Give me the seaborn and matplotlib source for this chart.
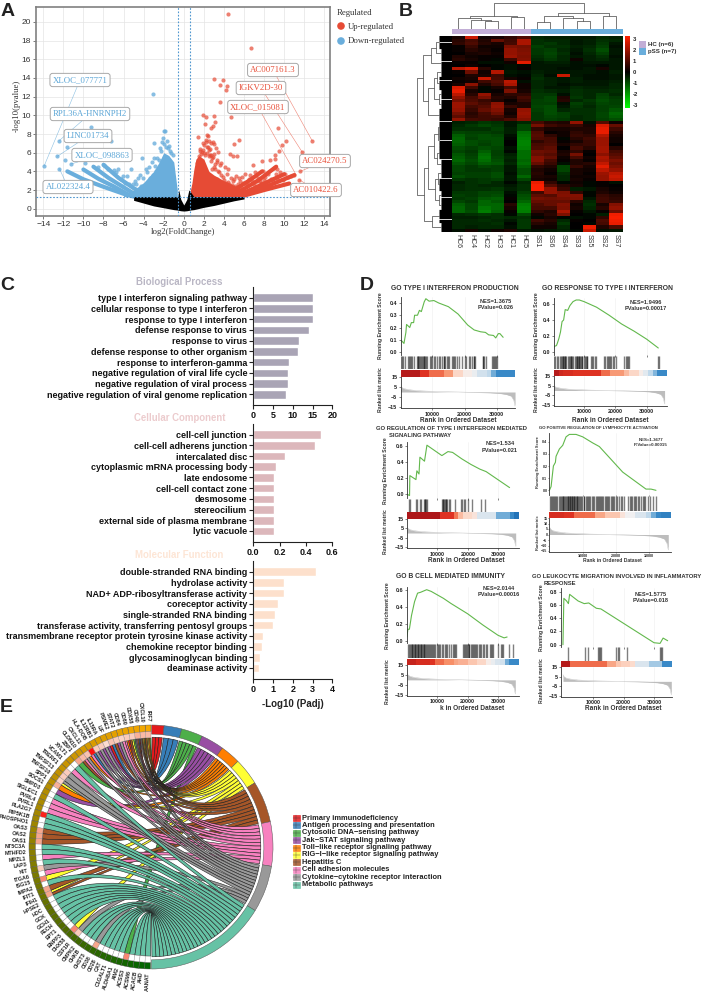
import numpy as np
import pandas as pd
import seaborn as sns
import matplotlib
matplotlib.use("Agg")
import matplotlib.pyplot as plt
from matplotlib.colors import LinearSegmentedColormap, ListedColormap
from matplotlib.patches import Wedge, PathPatch, Rectangle
from matplotlib.path import Path

# ---- A: volcano
up_x = [4.42,6.68,3.05,3.9,4.3,3.65,4.2,3.6,4.75,1.96,2.2,2.96,2.1,3.1,2.95,2.7,1.45,2.3,2.2,9.37,12.8,11.8,10.2,9.8,9.5,9.1,9.1,5.5,5,4.6,4.85,5.3,6.9,7.8,8.6,11.6,11.5,
        2.5,2.7,2.9,3.2,3.4,3.0,2.6,2.4,2.8,3.3,3.7,4.1,4.4,3.6,3.9,3.1,2.8,3.5,4.0,4.3,4.7,5.2,5.6,6.1,5.8,6.5,6.2,7.1,7.4,6.8,7.6,8.1,8.4,9.0,9.3,9.6,10.4,10.7,11.0,7.9,8.7,9.2,
        3.2,3.6,3.4,4.2,4.5,4.9,5.1,5.4,4.6,5.7,2.3,2.5,1.8,1.6,2.0,2.7,2.9,3.0,3.3,2.2,2.6,1.9,2.4,3.8,4.4,
        1.7,1.9,2.1,2.3,2.5,2.7,2.0,1.5,1.3,1.6,3.1,3.4,3.7,3.0,3.3,4.8,5.0,5.5,5.9,6.3,6.6,7.0,7.3,7.7,8.0,8.3,8.9,9.4,9.9,10.1]
up_y = [20.8,17.2,13.9,13.8,13.1,13.2,12.7,11.4,9.8,10,9.8,9.9,9.1,9.25,8.85,8.6,7.7,7.9,7.1,8.65,7.25,6.05,7.25,6.8,6.2,5.7,5.3,7.35,6.9,5.9,5.6,5.6,4.7,5.1,5.2,4,3.1,
        7.2,7.0,7.1,6.5,6.1,5.9,6.4,6.6,5.4,5.2,4.9,4.5,4.2,4.7,3.4,4.8,4.3,3.9,3.1,3.7,3.3,3.5,3.0,3.7,3.4,3.2,2.7,3.9,3.3,3.0,3.0,3.4,3.7,4.4,4.2,3.9,3.4,3.5,3.6,4.0,3.2,3.7,
        3.0,2.9,2.4,2.8,2.6,3.0,2.4,2.6,2.2,2.3,6.0,6.3,6.1,6.4,6.8,5.8,5.5,6.9,5.0,7.4,5.7,7.0,7.8,2.6,2.9,
        5.9,6.3,5.7,6.6,5.6,5.1,6.0,5.6,4.9,6.2,4.2,4.0,3.6,4.5,3.2,2.5,3.2,3.3,2.8,2.9,3.6,2.6,3.0,2.8,3.1,2.7,3.0,3.1,3.1,3.7]
down_x = [-13.95,-12.4,-12.6,-11.65,-12.4,-11.8,-11.2,-3.05,-9.2,-7.3,-2.95,-2.0,-1.9,-2.1,-1.7,-2.2,-1.5,-1.8,-2.4,-2.3,-1.4,-2.7,-3,-3.2,-2.85,-3.5,-3.8,-4.2,-4.4,-4.9,-5.3,-5.7,-6.1,-6.6,-7,-7.5,-6.3,-5.9,-5.1,-4.6,-4.1,-3.7,-3.4,-2.6,-3.1,-3.3,-3.6,-3.9,-4.3,-2.5,-2.8,-8.5,-7.9,-9.8,-6.8,-5.5,-4.8,-1.3,-1.1,-1.6,-1.95]
down_y = [4.6,7.3,5.6,6.6,4.3,5.2,4.8,12.3,8.7,7.2,7,8.3,8.3,7.6,7.2,7.1,6.7,6.6,6.5,6.2,6.2,5.4,5.4,5,4.6,4.5,4.2,5.4,3.6,3,4.3,3.5,3.5,4.2,4.1,4.3,3.2,2.8,2.6,3.3,3.3,3.9,3.3,4.2,3.6,2.9,2.8,2.4,2.4,5.2,4.0,4.5,4.7,4.9,3.9,2.6,2.7,6.0,5.7,6.5,6.9]
red_mass_x = [0.6,0.8,1.0,1.2,1.5,2.0,2.5,3.0,4.0,5.0,6.0]
red_mass_hi = [1.7,2.7,4.2,5.3,5.7,5.3,4.0,3.6,3.0,2.5,2.0]
blue_mass_x = [-6,-5,-4,-3.5,-3,-2.5,-2,-1.5,-1,-0.65]
blue_mass_hi = [1.5,2.0,2.8,3.4,4.0,4.9,6.0,5.7,5.0,2.0]
mass_floor = 1.3
black_x = [-5,-4,-3,-2,-1,-0.6,-0.5,-0.3,0,0.3,0.5,0.6,1,2,3,4,5,6]
black_hi = [1.3,1.3,1.3,1.3,1.3,1.3,2.0,1.0,0.4,1.0,2.0,1.9,1.3,1.3,1.3,1.3,1.3,1.3]
black_lo = [0.9,0.6,0.3,0.1,-0.1,-0.15,-0.18,-0.22,-0.25,-0.22,-0.18,-0.15,-0.1,0.15,0.35,0.6,0.85,1.05]
down_arms = [([-11.6,-10,-8,-6,-5],[4.0,3.15,2.35,1.6,1.3]),
             ([-10,-8.5,-7,-5.5],[4.2,3.2,2.4,1.5]),
             ([-9,-7.5,-6,-4.8],[4.5,3.3,2.3,1.5]),
             ([-8,-6.5,-5,-4],[4.7,3.3,2.2,1.6])]
up_arms = [([6,8,10.5],[1.4,2.0,2.7]),
           ([6,8.5,11],[1.5,2.5,3.6]),
           ([6,8,10],[1.7,2.7,3.7]),
           ([5.5,7.5,9.2],[1.8,3.1,4.5]),
           ([5,6.5,7.8],[2.0,3.0,4.0])]
volcano_labels = ["XLOC_077771","RPL36A-HNRNPH2","LINC01734","XLOC_098863","AL022324.4",
                  "AC007161.3","IGKV2D-30","XLOC_015081","AC024270.5","AC010422.6"]
volcano_targets = [(-13.9,4.6),(-12.4,7.3),(-12.6,5.6),(-11.2,4.8),(-12.4,4.3),
                   (12.8,7.25),(11.8,6.05),(11.2,3.6),(11.6,4.0),(11.5,3.1)]

# ---- B: heatmap
hm_cols = ["HC6","HC4","HC2","HC3","HC1","HC5","SS1","SS6","SS4","SS3","SS5","SS2","SS7"]
hm_groups = [0,0,0,0,0,0,1,1,1,1,1,1,1]
hm_rows = [
[.3,2.6,.2,.3,.6,1.0,-.5,-.4,-.4,-.3,-.3,-.5,-.4],
[.5,.9,.4,1.3,.8,2.2,-.6,-.5,-.5,-.3,-.4,-.6,-.5],
[.6,1,.5,.3,.9,2.2,-.6,-.7,-.5,-.3,-.4,-.7,-.3],
[.1,.7,.2,.2,1.6,1.5,-.8,-.6,-.6,-.4,-.5,-.8,-.2],
[.1,.5,.3,.1,1.9,1.6,-.7,-.8,-.5,-.3,-.6,-1,-.3],
[0,.3,.4,.2,1.9,1.7,-.7,-.9,-.6,-.2,-.5,-.8,-.3],
[.4,.2,.1,.1,2,1.6,-.6,-.8,-.5,-.3,-.4,-.6,-.2],
[.5,.3,.1,-.1,.8,1.7,-.5,-.7,-.5,.2,-.4,-.5,-.3],
[.1,.1,-.2,-.2,.2,2.9,-.3,-.4,-.4,-.2,-.3,-.3,-.3],
[0,.2,0,-.1,-.2,-.1,-.3,-.3,-.3,-.2,-.2,-.1,-.3],
[2.4,2.8,.5,-.1,-.2,.1,-.3,-.3,-.2,-.2,-.3,.3,-.3],
[.1,1.4,.2,2.3,-.3,-.2,-.4,-.3,-.3,-.3,-.3,-.2,-.4],
[0,.4,.3,.8,-.2,-.1,-.5,-.2,2.6,-.3,-.2,-.2,-.3],
[.2,.3,2.6,.9,.3,.1,-.6,-.4,-.3,-.4,-.2,-.2,-.3],
[.1,.2,.8,1.1,2.4,-.2,-.5,-.4,-.3,-.4,-.3,-.3,-.4],
[.3,1.8,.4,.9,2.2,.2,-.5,-.4,-.2,-.3,-.3,-.3,-.5],
[2.8,.8,-.1,.3,.9,.2,-.5,-.3,-.3,-.5,-.4,-.4,-.5],
[3,.3,-.1,.1,1.6,.3,-.6,-.5,-.4,-.6,-.5,-.5,-.6],
[2.4,.5,1.9,.3,.6,.6,-.7,-.7,-.2,-.6,-.5,-.8,-.5],
[1.9,.9,1.5,.5,.4,.9,-.7,-.9,.4,-.7,-.5,-.9,-.7],
[1.5,1,.7,.4,.1,.7,-.8,-.9,.5,-.5,-.7,-1,-.8],
[2,1.2,.9,1.8,.3,.4,-.8,-.8,-.2,-.8,-.6,-.9,-.8],
[2,.9,1.1,1.9,.7,.4,-.9,-1,-.3,-.7,-.5,-.8,-.9],
[1.9,.7,1.3,1.7,.3,1.9,-.8,-1,-.5,-.6,-.6,-.8,-1.1],
[1.5,.5,.9,1.4,.2,2,-.7,-1,-.8,-.6,-.6,-.9,-1.3],
[1.2,.6,.8,.9,.4,1.9,-.7,-.9,-.8,-.5,-.6,-.9,-1.2],
[1.9,.9,.8,.7,1,1.7,-.7,-.8,-.7,-.5,-.6,-.8,-1],
[-.4,-.5,-.7,-.6,-.3,-.5,.9,.5,.4,1.9,-.2,1.1,.2],
[-.5,-.7,-.9,-.7,-.3,-.9,1.5,.8,.6,.7,.3,2.8,1.3],
[-.6,-.6,-.6,-.8,-.4,-.9,.6,.3,.3,.4,.4,3,.8],
[-.9,-.8,-.8,-.7,-.4,-1.4,1,.1,.2,.6,.4,3,.5],
[-1.2,-.9,-1,-.9,-.2,-1.5,1.1,.6,.2,.7,.6,2.3,.3],
[-1.3,-.8,-1,-1,-.1,-1.6,1,.9,-.1,.5,.8,2,.2],
[-1.3,-1,-.9,-1,0,-1.7,.6,.9,.1,.3,.7,2,.2],
[-1.2,-1,-.8,-1,0,-1.7,.9,1,.3,.6,.7,2,0],
[-1,-.8,-1,-.9,-.2,-1.6,1,1.2,0,.9,.5,2.1,.5],
[-.9,-.7,-1.2,-.8,-.1,-1.4,1.4,1.3,.3,.6,.1,2.1,.9],
[-1.1,-.8,-1.4,-.8,-.4,-1.4,1.3,1.1,.4,1.5,0,1.8,1.1],
[-1.2,-.9,-1.5,-.9,-.5,-1.4,1.7,1.3,.2,.9,.2,2.2,1.3],
[-1.3,-1,-1.4,-1,-.4,-1.3,1.7,.9,.1,.4,.1,2.1,1.6],
[-1.1,-.9,-1.2,-1.1,-.5,-1.4,1.3,.7,-.2,.4,.5,2.5,1.4],
[-.9,-.7,-.9,-.8,-.3,-1.2,.6,.4,-.9,.7,.3,2.9,1.6],
[-.9,-.7,-.7,-.8,-.3,-1,.4,.2,-.9,.3,.2,2.4,1.9],
[-.8,-.8,-.8,-1,-.2,-1,.5,.1,-.6,.3,.1,2,2.4],
[-1,-.8,-.8,-1,-.3,-1.3,.4,.3,-.5,.2,.2,1.9,2.6],
[-.7,-.6,-.7,-.8,-.3,-.9,.3,.2,-.5,.3,.1,1.9,2.4],
[-.4,-.6,-.7,-.5,-.1,-.5,3,.6,-.1,.2,-.1,.1,-.2],
[-.5,-.6,-.5,-.5,-.3,-.6,3.2,1.1,.5,.3,-.1,.1,0],
[-.5,-.6,-.6,-.7,-.4,-.6,3.2,1.9,.7,-.4,-.3,.3,.1],
[-.7,-.7,-.9,-.9,-.2,-.8,.8,1.9,1.6,.6,-.1,.4,.2],
[-.8,-.7,-.9,-1,-.1,-1,1.2,1.1,1.7,1.7,-.1,.7,.5],
[-.7,-.8,-1.1,-1.2,.1,-1.1,1.5,1.4,1.5,1.6,-.3,.8,.6],
[-.9,-.7,-1.3,-1.1,0,-1.3,1.3,1.3,1.3,.5,-.5,.8,.7],
[-1.2,-.9,-1.3,-1.3,.5,-1.6,1,1.3,1.7,.2,-.6,.3,1.7],
[-1.3,-.9,-1.5,-1.3,.3,-1.7,.9,.9,1.6,.3,-.5,.5,1.9],
[-1.3,-1,-1.6,-1.2,.1,-1.6,.6,.4,2.2,.1,-.3,.1,1.4],
[-.5,-.6,-.7,-.6,-.1,-.9,.2,.5,1.6,0,-.1,-.4,3.1],
[-.4,-.4,-.5,-.6,-.5,-.6,-.1,.3,-.1,-.2,-.1,.6,3.2],
[-.5,-.5,-.6,-.5,-.3,-.7,.8,.5,-.5,.1,0,1,3.1],
[-.5,-.5,-.5,-.6,-.1,-.7,.5,.3,-.7,0,-.1,.9,3],
[-.5,-.4,-.5,-.5,-.2,-.7,.2,.2,-.5,0,3.1,.4,1],
[-.2,.3,-.2,.2,.4,-.3,-.2,-.3,-.4,-.1,2.6,-.2,-.3]]
# dendrograms: (height, left, right), an int is that many leaves
col_tree = (25.7,
            (13.3,(10.7,1,(9,1,(8.3,1,1))),(11.7,1,1)),
            (15.7,(13,(7.3,1,1),(10.7,1,(8.3,1,1))),(13,1,1)))
row_tree = (35,
            (29,(21,(16,4,3),3),(24,(18,(15,3,4),(13,3,3)),4)),
            (28,(24,(18,(14,4,4),(15,4,3)),(17,(14,3,4),(13,3,3))),(20,4,3)))

# ---- C: GO bars
bp_terms = ["type I interferon signaling pathway","cellular response to type I interferon","response to type I interferon",
            "defense response to virus","response to virus","defense response to other organism","response to interferon-gamma",
            "negative regulation of viral life cycle","negative regulation of viral process","negative regulation of viral genome replication"]
bp_vals = [15.1,15.1,15.1,14,11.5,11.2,9,8.9,8.9,8.4]
cc_terms = ["cell-cell junction","cell-cell adherens junction","intercalated disc","cytoplasmic mRNA processing body","late endosome",
            "cell-cell contact zone","desmosome","stereocilium","external side of plasma membrane","lytic vacuole"]
cc_vals = [.515,.47,.24,.17,.155,.155,.155,.155,.155,.155]
mf_terms = ["double-stranded RNA binding","hydrolase activity","NAD+ ADP-ribosyltransferase activity","coreceptor activity",
            "single-stranded RNA binding","transferase activity, transferring pentosyl groups",
            "transmembrane receptor protein tyrosine kinase activity","chemokine receptor binding","glycosaminoglycan binding","deaminase activity"]
mf_vals = [3.15,1.55,1.55,1.25,1.1,1.0,.5,.45,.35,.3]

# ---- D: GSEA
es1_x = [0,200,1200,1800,2000,3000,3500,4200,4500,5400,6000,6600,7500,8000,9000,10500,12000,15000,18000,21000,23000,25000,26500,27500,29000,29700,30500,31000,32000]
es1_y = [0,.10,.07,.16,.225,.2,.24,.24,.30,.30,.34,.33,.41,.435,.415,.42,.40,.37,.31,.22,.18,.165,.16,.14,.135,.115,.15,.15,.12]
es2_x = [0,500,1200,1500,2000,2500,3000,3500,4000,4800,5500,6500,7500,8500,10000,14000,18000,22000,26000,30000,33700]
es2_y = [0,.07,.08,.11,.17,.25,.38,.40,.53,.52,.58,.63,.65,.65,.63,.56,.46,.35,.26,.16,.05]
es3_x = [0,900,1000,3000,3300,4000,4300,5800,6600,11500,13500,15000,18000,21000,24000,26000,33700]
es3_y = [0,-.02,.23,.18,.29,.25,.46,.41,.61,.48,.53,.52,.44,.37,.31,.28,.08]
es4_x = [0,500,1200,1800,2000,3000,4000,5000,6000,8000,10000,13000,15000,18000,22000,26000,29000,30500,32000]
es4_y = [0,.03,.2,.23,.28,.34,.37,.44,.46,.46,.44,.39,.36,.27,.15,.07,.01,.01,0]
es5_x = [0,300,800,1500,2500,3500,4500,6500,8000,12000,14500,20000,25000,30000,32000,33000]
es5_y = [.05,.14,.14,.30,.46,.56,.57,.6,.58,.5,.44,.32,.19,.07,.04,.05]
es6_x = [0,300,1200,1800,2200,5000,7000,8500,11000,12500,30000,32000,33000,34500]
es6_y = [0,.7,.66,.62,.76,.66,.62,.63,.55,.54,.03,.02,.1,.06]
hits1 = [200,600,1000,1400,2600,2900,3200,3500,3800,4200,5300,5500,5700,5900,6200,6400,6700,7000,7300,7500,7800,8100,8500,9200,9500,9900,10400,10800,11500,12200,12500,13000,13500,13700,14000,14500,14800,15200,16000,16300,16700,17200,17800,18200,19300,20000,20600,21400,21800,22200,22800,23000,23200,25600,25900,26200,26600,28500,28800,29100,29400,29800,30100]
hits2 = [400,700,1300,1800,2300,2700,3000,3200,3400,3600,3800,4000,4400,4800,5200,5500,5800,6000,6200,6500,7100,7500,7700,7900,8100,8300,8500,8800,9000,9300,9500,10000,10300,10700,11000,11100,12300,12600,13000,13400,13800,16300,16700,17200,17600,18000,18400,18600,19300,19500,20100,22900,23300,23700,24000,24300,33700,33800]
hits3 = [600,1000,2900,3200,4300,4500,5700,5900,6100,6300,6500,11500,11800,12000,12300,12500,12700,13000,13300,13700,14000,15800,17800,18100,18700,19100,20000,21500,24300,25700]
hits4 = [100,400,700,1000,1300,1700,2100,2400,2800,3100,3400,3700,4000,4200,4500,4700,5000,5200,5500,5700,5900,6100,6300,6500,6700,6900,7100,7300,7500,7800,8000,8200,8400,8700,9000,9200,9500,9800,10300,10500,10900,11200,11600,11900,12300,12700,13200,13500,13900,14300,14500,14900,15200,15500,15800,16200,16600,17000,17300,17700,18000,18400,18800,19200,19500,20000,20400,20900,21400,21900,22300,23500,24300,24500,24900,25300,25700,26100,26600,27000,27500,28000,28300,28800,29500,30100,31100,32100]
hits5 = [300,600,900,1200,1500,1800,2000,2300,2500,2800,3000,3300,3500,3700,4000,4200,4500,4700,5000,5200,5500,5700,6000,6300,6500,6800,7200,7500,7900,8200,8500,8900,9400,9800,10100,10500,11000,11500,11900,12400,13000,13300,14000,14500,15100,15500,15800,16000,18500,18800,19100,19400,19700,20000,20300,20600,21000,21300,21600,22000,22400,22800,23200,23600,24000,24500,25000,25500,26000,26400,27200,27600,28000,28400,30000,31000,31300,31600,33500,35000]
hits6 = [1500,7300,8200,11700,11900,12200,12500,17500,18000,18500,21200,32000,32200,32500]
strip1 = [.96,.96,.96,.96,.86,.86,.76,.76,.76,.68,.68,.56,.56,.46,.46,.4,.34,.34,.3,.2,.12,.12,.12,.12]
strip2 = [.96,.9,.88,.88,.86,.86,.86,.86,.86,.86,.76,.76,.68,.68,.68,.62,.56,.56,.46,.38,.3,.22,.12,.12]
strip3 = [.98,.98,.98,.98,.98,.98,.98,.86,.86,.86,.74,.62,.55,.55,.5,.36,.36,.36,.36,.2,.2,.2,.12,.02]
strip4 = [.88,.88,.88,.86,.86,.76,.76,.76,.76,.66,.66,.6,.6,.6,.5,.42,.42,.36,.36,.3,.2,.12,.08,.08]
strip5 = [.92,.92,.88,.88,.88,.86,.76,.76,.7,.7,.66,.64,.64,.6,.6,.56,.56,.46,.4,.36,.34,.2,.12,.12]
strip6 = [.96,.96,.76,.76,.76,.76,.76,.76,.76,.76,.66,.66,.6,.58,.58,.54,.36,.36,.36,.26,.26,.26,.12,.12]
rank_x = [0,300,1000,2500,5000,8000,12000,18000,24000,28000,31000,33000,34500,35300,35700]
rank_y = [7,5,3.5,2.4,1.4,.9,.4,0,-.4,-.8,-1.4,-2.4,-4,-8,-14]

# ---- E: chord
pathways = ["Primary immunodeficiency","Antigen processing and presentation","Cytosolic DNA\u2212sensing pathway","Jak\u2212STAT signaling pathway",
            "Toll\u2212like receptor signaling pathway","RIG\u2212I\u2212like receptor signaling pathway","Hepatitis C","Cell adhesion molecules",
            "Cytokine\u2212cytokine receptor interaction","Metabolic pathways"]
pathway_ends = [6.2,14.6,24.8,35.8,45.4,58.3,78,99.1,121.4,179.8]
genes = ["IRF7","CXCL10","CD40","DDX58","CD80","CD84","STAT2","PSME2","LIF","IL15RA","IL12RB1","HLA-DOB","CXCL11","CLDN10","ZBP1","XYLT1","VCAM1",
         "TRERF1","TNFSF13","TNFSF10","SPP1","SOCS1","SMPD3","SIGLEC1","PVRL4","PVRL1","PLA2G7","PIP5K1B","PHOSPHO1","OAS3","OAS2","OAS1","NT5C3A",
         "MTHFD2","MPZL1","LAP3","KIT","ITGA6","ISG15","IMPA2","IFIT1","IFIH1","HPSE2","HDC","GCK","GCH1","FECH","EPT1","ENPP3","DHX58","CSF1R",
         "CMPK2","CHKB","CHST3","CD38","CD28","CAT","C1GALT1","ALDH8A1","AIM2","ACSS3","ACSM6","ACACB","AHD","AANAT"]
gene_paths = [[2,4,5,6],[2,4,5,6,8],[0,1,4,7,8],[2,5,6],[0,4,7],[7,8],[3,6],[1,0],[3,8],[3,8],[3,8],[1,7],[4,8],[7,6],[2],[9],[7],
              [8],[8],[8,5],[4],[3],[9],[7],[7],[7],[9],[9],[9],[6],[6],[6],[9],
              [9],[7],[9],[8],[7],[5],[9],[6],[5,6],[9],[9],[9],[9],[9],[9],[9],[5],[8],
              [9],[9],[9],[8],[9],[9],[9],[9],[9],[2],[9],[9],[9],[9]]
gene_fc = [.4,.4,.45,.3,.3,.25,.3,.35,.2,.3,.3,.95,.35,.4,.5,0,1,
           .3,.3,.25,.45,0,0,1,1,1,.9,0,0,.5,.5,.5,0,
           0,1,0,.3,1,.6,0,.5,.5,0,0,0,0,0,0,0,.6,.3,
           0,0,0,.5,0,0,0,0,0,.6,0,0,0,0]

W, H = 703, 992
sns.set_style("ticks")
plt.rcParams["font.family"] = "Liberation Sans"
fig = plt.figure(figsize=(W / 100, H / 100), dpi=100)


def ax_px(x0, y0, x1, y1):
    return fig.add_axes([x0 / W, 1 - y1 / H, (x1 - x0) / W, (y1 - y0) / H], facecolor="none")


ov = ax_px(0, 0, W, H)
ov.set_xlim(0, W)
ov.set_ylim(H, 0)
ov.axis("off")
ov.set_zorder(20)

for let, lx, ly in [("A", 1, 16), ("B", 399, 16), ("C", 0, 290), ("D", 360, 290), ("E", 0, 712)]:
    ov.text(lx, ly, let, fontsize=14, fontweight="bold", color="#222222", va="baseline")

# ---------- A
RED = "#e64b35"
BLUE = "#6aaedc"
ax = ax_px(36, 7, 330, 216)
ax.grid(True, color="#e4e4e4", lw=0.5)
ax.set_axisbelow(True)
ax.fill_between(red_mass_x, mass_floor, red_mass_hi, color=RED, lw=0, zorder=2)
ax.fill_between(blue_mass_x, mass_floor, blue_mass_hi, color=BLUE, lw=0, zorder=2)
for ax_, ay_ in down_arms:
    sns.lineplot(x=ax_, y=ay_, color=BLUE, lw=3.0, sort=False, errorbar=None, ax=ax, zorder=2)
for ax_, ay_ in up_arms:
    sns.lineplot(x=ax_, y=ay_, color=RED, lw=3.0, sort=False, errorbar=None, ax=ax, zorder=2)
sns.scatterplot(x=up_x, y=up_y, color=RED, s=9, linewidth=0, alpha=0.7, ax=ax, zorder=3)
sns.scatterplot(x=down_x, y=down_y, color=BLUE, s=9, linewidth=0, alpha=0.8, ax=ax, zorder=3)
ax.fill_between(black_x, black_lo, black_hi, color="black", lw=0, zorder=4)
for v in (-0.58, 0.58):
    ax.axvline(v, color="#4f97d0", lw=0.8, ls=(0, (1.5, 1.5)), zorder=5)
ax.axhline(1.3, color="#4f97d0", lw=0.8, ls=(0, (1.5, 1.5)), zorder=5)
ax.set_xlim(-14.72, 14.56)
ax.set_ylim(-0.78, 21.6)
ax.set_xticks(range(-14, 15, 2))
ax.set_yticks(range(0, 21, 2))
ax.tick_params(labelsize=6, length=2, width=0.6, color="#666666", labelcolor="#333333", pad=1.5)
for s in ax.spines.values():
    s.set_color("#808080")
    s.set_linewidth(1.2)
ov.text(183, 232, "log2(FoldChange)", fontsize=6.3, family="Liberation Serif", color="#333333", ha="center", va="center")
ov.text(17, 106, "-log10(pvalue)", fontsize=6.3, family="Liberation Serif", color="#333333", ha="center", va="center", rotation=90)
label_px = [(80, 80), (90, 114), (88, 136), (102, 155), (68, 187), (273, 70), (261, 88), (258, 107), (325, 161), (316, 190)]
for i, (lab, tgt) in enumerate(zip(volcano_labels, volcano_targets)):
    col = "#5aa5d6" if i < 5 else "#e8503a"
    ax.annotate(lab, xy=tgt, xytext=(label_px[i][0] / W, 1 - label_px[i][1] / H), textcoords="figure fraction",
                ha="center", va="center", fontsize=6.3, family="Liberation Serif", color=col, zorder=8,
                bbox=dict(boxstyle="round,pad=0.3", fc="white", ec="#a8a8a8", lw=0.7),
                arrowprops=dict(arrowstyle="-", color=col, lw=0.4, alpha=0.7, shrinkA=0, shrinkB=0))
ov.text(337, 13, "Regulated", fontsize=6.3, family="Liberation Serif", color="#333333", va="center")
ov.scatter([341, 341], [26, 41], s=[30, 30], c=[RED, BLUE], linewidths=0)
ov.text(348, 27, "Up-regulated", fontsize=6.3, family="Liberation Serif", color="#333333", va="center")
ov.text(348, 41, "Down-regulated", fontsize=6.3, family="Liberation Serif", color="#333333", va="center")


# ---------- B
def draw_tree(axt, node, pos, vertical):
    # returns centre, height, next free slot
    if isinstance(node, int):
        if node == 1:
            return pos + 0.5, 0, pos + 1
        h = 5 + node * 2
        cs = [pos + k + 0.5 for k in range(node)]
        for c in cs:
            axt.plot([h, 0], [c, c], color="black", lw=2.3, solid_capstyle="butt")
        return (cs[0] + cs[-1]) / 2, h, pos + node
    h, a, b = node
    ca, ha, pos = draw_tree(axt, a, pos, vertical)
    cb, hb, pos = draw_tree(axt, b, pos, vertical)
    if vertical:
        axt.plot([ca, ca, cb, cb], [ha, h, h, hb], color="#555555", lw=0.55)
    else:
        axt.plot([ha, h, h, hb], [ca, ca, cb, cb], color="#555555", lw=0.55)
    return (ca + cb) / 2, h, pos


hm_df = pd.DataFrame(hm_rows, columns=hm_cols)
rg = LinearSegmentedColormap.from_list("rg", ["#00ff00", "#000000", "#ff2000"])
ax = ax_px(451.7, 35.7, 622.5, 231.7)
cax = ax_px(625, 36, 630.3, 108)
sns.heatmap(hm_df, cmap=rg, vmin=-3.3, vmax=3.3, ax=ax, cbar_ax=cax, xticklabels=True, yticklabels=False, cbar_kws={"ticks": [3, 2, 1, 0, -1, -2, -3]})
ax.tick_params(axis="x", length=0, pad=2, labelsize=5, labelcolor="#333333", labelrotation=270)
cax.set_yticklabels(["3", "2", "1", "0", "-1", "-2", "-3"])
cax.tick_params(length=0, labelsize=4.2, pad=1.5)
for t in cax.get_yticklabels():
    t.set_fontweight("bold")
ax.collections[0].colorbar.outline.set_visible(False)
ax_g = ax_px(451.7, 29.3, 622.5, 33.7)
sns.heatmap([hm_groups], cmap=ListedColormap(["#c2aed6", "#6aaedc"]), cbar=False, xticklabels=False, yticklabels=False, ax=ax_g)
ax_t = ax_px(451.7, 2, 622.5, 29)
draw_tree(ax_t, col_tree, 0, True)
ax_t.set_xlim(0, 13)
ax_t.set_ylim(0, 27)
ax_t.axis("off")
ax_r = ax_px(416, 35.7, 451.7, 231.7)
draw_tree(ax_r, row_tree, 0, False)
ax_r.set_xlim(35.7, 0)
ax_r.set_ylim(62, 0)
ax_r.axis("off")
ov.add_patch(Rectangle((639.3, 41), 7, 6.6, color="#c2aed6", lw=0))
ov.add_patch(Rectangle((639.3, 48), 7, 6.6, color="#6aaedc", lw=0))
ov.text(647.5, 44.3, "HC (n=6)", fontsize=4.4, fontweight="bold", color="#333333", va="center")
ov.text(647.5, 51.3, "pSS (n=7)", fontsize=4.4, fontweight="bold", color="#333333", va="center")


# ---------- C
def go_bars(terms, vals, color, top, bottom, xmax, ticks, ticklabs):
    axb = ax_px(253.3, top, 332.3, bottom)
    sns.barplot(x=vals, y=terms, color=color, saturation=1, width=0.8, ax=axb)
    axb.set_xlim(0, xmax)
    axb.set_ylim(10.0, -1.02)
    axb.set_xticks(ticks)
    axb.set_xticklabels(ticklabs)
    axb.set_ylabel("")
    axb.tick_params(labelsize=6.5, length=3, width=0.8, pad=1.5, color="#222222", labelcolor="#111111")
    for t in axb.get_xticklabels() + axb.get_yticklabels():
        t.set_fontweight("bold")
    axb.spines["top"].set_visible(False)
    axb.spines["right"].set_visible(False)
    axb.spines["left"].set_color("#222222")
    axb.spines["bottom"].set_color("#222222")
    axb.spines["left"].set_linewidth(0.8)
    axb.spines["bottom"].set_linewidth(0.8)


go_bars(bp_terms, bp_vals, "#a9a4b5", 286.7, 405, 20, [0, 5, 10, 15, 20], ["0", "5", "10", "15", "20"])
go_bars(cc_terms, cc_vals, "#dcb7bb", 423.7, 541.7, 0.6, [0, .2, .4, .6], ["0.0", "0.2", "0.4", "0.6"])
go_bars(mf_terms, mf_vals, "#fde0cc", 560.7, 678.7, 4, [0, 1, 2, 3, 4], ["0", "1", "2", "3", "4"])
ov.text(179, 282, "Biological Process", fontsize=6.9, fontweight="bold", color="#b9b6c4", ha="center", va="center")
ov.text(180, 418, "Cellular Component", fontsize=6.9, fontweight="bold", color="#eccbcd", ha="center", va="center")
ov.text(179, 555, "Molecular Function", fontsize=6.9, fontweight="bold", color="#fde5d5", ha="center", va="center")
ov.text(293, 704, "-Log10 (Padj)", fontsize=7, fontweight="bold", color="#222222", ha="center", va="center")


# ---------- D
gsea_strip = LinearSegmentedColormap.from_list("strip", ["#1f6fb5", "#3f8fcb", "#bcd7ea", "#f5f2f2", "#fcd5c3", "#f6885f", "#e03322", "#a51218"])


def ylim_from(px_a, val_a, px_b, val_b, top, bottom):
    k = (val_b - val_a) / (px_b - px_a)
    return val_a + (bottom - px_a) * k, val_a + (top - px_a) * k


def gsea(es_x, es_y, hits, strip, left, right, x10, x30, es_top, es_bot, es_ref, es_ticks, rug_box, strip_box, r15, rm15,
         r_ticks=(15, 5, -5, -15), fs=3.9, tick_len=1.5, tick_pad=1):
    k = (x30 - x10) / 20000
    x0 = x10 - 10000 * k
    xlim = ((left - x0) / k, (right - x0) / k)
    a1 = ax_px(left, es_top, right, es_bot)
    sns.lineplot(x=es_x, y=es_y, color="#62b84c", lw=0.8, sort=False, errorbar=None, ax=a1)
    a1.set_xlim(xlim)
    a1.set_ylim(ylim_from(es_ref[0], es_ref[1], es_ref[2], es_ref[3], es_top, es_bot))
    a1.set_xticks([10000, 20000, 30000])
    a1.set_xticklabels([])
    a1.set_yticks(es_ticks)
    a1.set_yticklabels([f"{v:.1f}" for v in es_ticks])
    a1.grid(True, axis="x", color="#eeeeee", lw=0.4)
    a1.tick_params(axis="x", length=0)
    a2 = ax_px(left, rug_box[0], right, rug_box[1])
    sns.rugplot(x=hits, height=1, color="black", alpha=0.5, lw=0.8, ax=a2)
    a2.set_xlim(xlim)
    a2.axis("off")
    a3 = ax_px(left, strip_box[0], right, strip_box[1])
    sns.heatmap([strip], cmap=gsea_strip, vmin=0, vmax=1, cbar=False, xticklabels=False, yticklabels=False, ax=a3)
    a4 = ax_px(left, r15, right, rm15 + 1)
    a4.fill_between(rank_x, 0, rank_y, color="#bdbdbd", lw=0)
    sns.lineplot(x=rank_x, y=rank_y, color="#bdbdbd", lw=0.3, sort=False, errorbar=None, ax=a4)
    a4.set_xlim(xlim)
    a4.set_ylim(ylim_from(r15, 15, rm15, -15, r15, rm15 + 1))
    a4.set_xticks([10000, 20000, 30000])
    a4.set_yticks(list(r_ticks))
    a4.grid(True, axis="x", color="#eeeeee", lw=0.4)
    for a in (a1, a4):
        a.spines["top"].set_visible(False)
        a.spines["right"].set_visible(False)
        a.spines["left"].set_linewidth(0.6)
        a.spines["bottom"].set_linewidth(0.6 if a is a4 else 0)
        a.spines["left"].set_color("#333333")
        a.spines["bottom"].set_color("#333333")
        a.tick_params(labelsize=fs, length=tick_len, width=0.4, pad=tick_pad, labelcolor="#222222")
        for t in a.get_xticklabels() + a.get_yticklabels():
            t.set_fontweight("bold")


def note(x, y, s, fs=4.1):
    ov.text(x, y, s, fontsize=fs, fontweight="bold", color="#333333", ha="center", va="center", linespacing=1.3)


def side(x, y, s, fs=3.7):
    ov.text(x, y, s, fontsize=fs, fontweight="bold", color="#333333", ha="center", va="center", rotation=90)


gsea(es1_x, es1_y, hits1, strip1, 400.7, 515.3, 432.3, 496.7, 296.7, 355, (303, .4, 352, 0), [0, .1, .2, .3, .4], (355.7, 369.3), (370, 376.7), 376.7, 407.3)
gsea(es2_x, es2_y, hits2, strip2, 554, 666.7, 584, 646.7, 298, 355, (304, .6, 352, 0), [0, .2, .4, .6], (355.7, 369.3), (370, 376), 376, 405)
gsea(es3_x, es3_y, hits3, strip3, 407.3, 519, 437.3, 498.3, 442, 498, (446, .6, 494, 0), [0, .2, .4, .6], (498.7, 511.7), (512.3, 518.7), 518.7, 547.3)
gsea(es4_x, es4_y, hits4, strip4, 549, 671, 582.7, 649.3, 432.7, 495, (441.7, .4, 490.3, 0), [0, .1, .2, .3, .4], (496, 511), (511.7, 518), 518, 551,
     r_ticks=(15, 10, 5, 0, -5, -10, -15), fs=2.6, tick_len=0.8, tick_pad=0.3)
gsea(es5_x, es5_y, hits5, strip5, 407, 518.7, 437.3, 498, 586.7, 643.3, (589.7, .6, 641.3, 0), [0, .2, .4, .6], (644.3, 658.3), (659, 664.7), 664.7, 695)
gsea(es6_x, es6_y, hits6, strip6, 561, 671.7, 593.3, 654, 588, 646.7, (591.7, .8, 644.7, 0), [0, .2, .4, .6, .8], (647.3, 661), (661.3, 667), 667, 695.7)

tfs = 4.9
note(454.7, 288.7, "GO TYPE I INTERFERON PRODUCTION", tfs)
note(607.7, 288.7, "GO RESPONSE TO TYPE I INTERFERON", tfs)
note(452, 428, "GO REGULATION OF TYPE I INTERFERON MEDIATED", 4.25)
ov.text(389, 435.7, "SIGNALING PATHWAY", fontsize=4.25, fontweight="bold", color="#333333", va="center")
note(598, 427.7, "GO POSITIVE REGULATION OF LYMPHOCYTE ACTIVATION", 3.1)
note(451, 576.7, "GO B CELL MEDIATED IMMUNITY", tfs)
note(616.5, 576.3, "GO LEUKOCYTE MIGRATION INVOLVED IN INFLAMMATORY", 4.2)
ov.text(544, 583.3, "RESPONSE", fontsize=4.2, fontweight="bold", color="#333333", va="center")
note(495.7, 304.3, "NES=1.3675\nPValue=0.026")
note(646, 305.6, "NES=1.9496\nPValue=0.00017")
note(500, 447, "NES=1.534\nPValue=0.021")
note(650.7, 442.7, "NES=1.3677\nP-Value=0.00015", 3.2)
note(498.3, 591.3, "NES=2.0144\nPValue=0.00016")
note(651, 597.5, "NES=1.5775\nPValue=0.018")
note(458, 420, "Rank in Ordered Dataset", 4.7)
note(610, 420, "Rank in Ordered Dataset", 4.7)
note(466, 560.7, "Rank in Ordered Dataset", 4.7)
note(612, 560.5, "Rank in Ordered Dataset", 3.6)
note(471.7, 708.7, "k in Ordered Dataset", 4.7)
note(623, 708.7, "Rank in Ordered Dataset", 4.7)
for sx, sy1, sy2, fs in [(380.7, 326, 390, 3.7), (536.7, 326, 390, 3.7), (385.7, 471, 532, 3.7), (538, 461.7, 533, 2.9), (387.3, 616, 681.7, 3.7), (541.3, 618, 681, 3.7)]:
    side(sx, sy1, "Running Enrichment Score", fs)
    side(sx, sy2, "Ranked list metric", fs)

# ---------- E
ax = ax_px(1, 697, 301, 997)
lim = 150 / 122
ax.set_xlim(-lim, lim)
ax.set_ylim(-lim, lim)
ax.axis("off")
path_colors = sns.color_palette("Set1", 9) + ["#66c2a5"]
ring_colors = sns.blend_palette(["#f5a800", "#c89400", "#8f8000", "#4f6a00", "#006400"], n_colors=len(genes))
fc_cmap = LinearSegmentedColormap.from_list("fc", ["#ffffff", "#f7a78e", "#ff0000"])
gw = 179.8 / len(genes)
R_RIB = 0.895


def pol(r, cw):
    t = np.radians(cw)
    return r * np.sin(t), r * np.cos(t)


starts = [0.3] + pathway_ends[:-1]
for p in range(len(pathways)):
    mine = []
    for gi, ps in enumerate(gene_paths):
        if p in ps:
            step = gw / len(ps)
            k = ps.index(p)
            mine.append((-gi * gw - k * step, -gi * gw - (k + 1) * step))
    s, e = starts[p] + 0.3, pathway_ends[p] - 0.3
    d = (e - s) / len(mine)
    for j, (ga, gb) in enumerate(mine):
        pa, pb = s + j * d, s + (j + 1) * d
        v = [pol(R_RIB, ga), pol(0.42, ga), pol(0.42, pa), pol(0.9, pa),
             pol(0.9, pb), pol(0.42, pb), pol(0.42, gb), pol(R_RIB, gb), pol(R_RIB, ga)]
        c = [Path.MOVETO, Path.CURVE4, Path.CURVE4, Path.CURVE4,
             Path.LINETO, Path.CURVE4, Path.CURVE4, Path.CURVE4, Path.CLOSEPOLY]
        ax.add_patch(PathPatch(Path(v, c), fc=path_colors[p], ec="#222222", lw=0.4, zorder=3 + p * 0.01))
    ax.add_patch(Wedge((0, 0), 1.0, 90 - pathway_ends[p], 90 - starts[p], width=0.075, fc=path_colors[p], ec="#555555", lw=0.35, zorder=5))
for gi, g in enumerate(genes):
    a, b = -gi * gw, -(gi + 1) * gw
    ax.add_patch(Wedge((0, 0), 1.0, 90 - a, 90 - b, width=0.055, fc=ring_colors[gi], ec="#555555", lw=0.3, zorder=5))
    ax.add_patch(Wedge((0, 0), 0.945, 90 - a, 90 - b, width=0.05, fc=fc_cmap(gene_fc[gi]), ec="#888888", lw=0.25, zorder=5))
    math_deg = 90 - (a + b) / 2
    x, y = pol(1.025, (a + b) / 2)
    ax.text(x, y, g, fontsize=3.9, fontweight="bold", color="#222222", rotation=math_deg - 180, rotation_mode="anchor", ha="right", va="center", zorder=6)

for i, (p, col) in enumerate(zip(pathways, path_colors)):
    py = 818 + i * 7.4
    ov.add_patch(Rectangle((292.5, py - 3), 7, 6, fc=col, ec=col, lw=0.5, alpha=0.85))
    ov.plot([292.5, 299.5], [py, py], color="#333333", lw=0.35, alpha=0.7)
    ov.plot([296, 296], [py - 3, py + 3], color="#333333", lw=0.35, alpha=0.7)
    ov.text(302.3, py, p, fontsize=5.45, fontweight="bold", color="#222222", va="center")
ov.set_xlim(0, W)
ov.set_ylim(H, 0)

plt.savefig("out.png", dpi=100)
